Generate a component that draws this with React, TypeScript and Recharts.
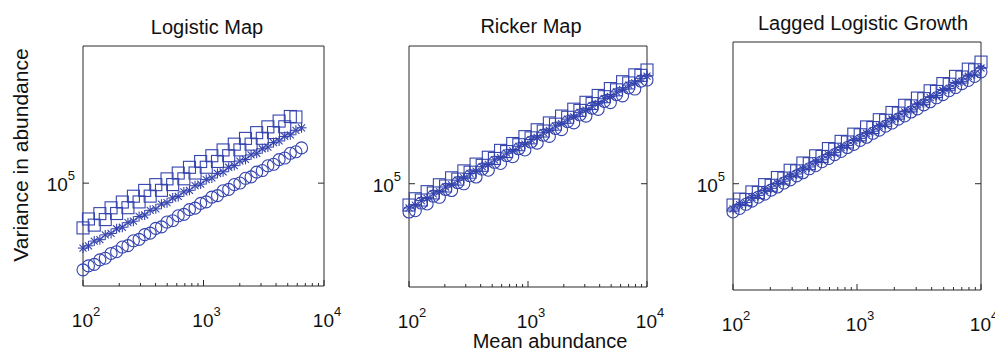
import React from "react";
import { ScatterChart, Scatter, XAxis, YAxis } from "recharts";

// mean abundance (x) per panel
const logisticX = [100, 111, 124, 138, 153, 171, 190, 212, 236, 262, 292, 325, 361, 402, 448, 498, 555, 617, 687, 765, 851, 947, 1054, 1173, 1306, 1454, 1618, 1801, 2004, 2231, 2483, 2763, 3076, 3423, 3811, 4241, 4721, 5254, 5848, 6509];
const rickerX = [100, 113, 127, 142, 160, 180, 203, 228, 257, 289, 326, 366, 412, 464, 522, 588, 661, 744, 837, 942, 1061, 1194, 1343, 1512, 1701, 1914, 2154, 2424, 2728, 3070, 3455, 3888, 4375, 4924, 5541, 6235, 7017, 7896, 8886, 10000];
const laggedX = [100, 113, 127, 142, 160, 180, 203, 228, 257, 289, 326, 366, 412, 464, 522, 588, 661, 744, 837, 942, 1061, 1194, 1343, 1512, 1701, 1914, 2154, 2424, 2728, 3070, 3455, 3888, 4375, 4924, 5541, 6235, 7017, 7896, 8886, 10000];

// variance in abundance (y)
const logisticSquares = [54800, 61800, 56900, 66400, 61300, 71800, 66500, 77600, 71900, 83900, 77700, 90700, 84000, 98000, 90800, 105900, 98100, 114500, 106000, 123700, 114600, 133700, 123800, 144500, 133800, 156200, 144600, 168800, 156300, 182400, 168900, 197100, 182600, 213000, 197300, 230200, 213200, 244800, 243300];
const logisticStars = [41800, 43100, 45900, 46800, 49900, 50900, 54200, 55300, 58800, 60000, 63900, 65200, 69400, 70800, 75400, 76900, 81900, 83600, 88900, 90800, 96600, 98700, 104900, 107200, 114000, 116500, 123800, 126600, 134500, 137500, 146100, 149400, 158700, 162300, 172400, 176300, 187300, 191500, 203400, 210300];
const logisticCircles = [31200, 32900, 33600, 35700, 36500, 38900, 39800, 42400, 43200, 46100, 47000, 50100, 51100, 54500, 55600, 59300, 60400, 64500, 65700, 70100, 71500, 76200, 77800, 82900, 84600, 90200, 92000, 98100, 100100, 106700, 108800, 116000, 118400, 126200, 128800, 137200, 140100, 149300, 152400, 160500];

const rickerSquares = [75200, 81800, 80400, 89900, 88400, 98600, 97000, 108200, 106400, 118700, 116700, 130000, 127900, 142500, 140200, 156200, 153700, 171200, 168500, 187700, 184700, 205800, 202400, 225500, 221800, 247200, 243200, 271000, 266600, 297100, 292200, 325700, 320300, 357000, 351100, 391300, 384900, 429000, 426000, 457700];
const rickerStars = [72300, 75100, 79800, 82200, 87300, 90000, 95700, 98600, 104800, 108000, 114700, 118200, 125600, 129400, 137500, 141700, 150600, 155200, 164900, 169900, 180600, 186100, 197800, 203800, 216600, 223200, 237200, 244400, 259800, 267700, 284500, 293200, 311600, 321100, 341300, 351700, 373800, 385200, 409500, 422200];
const rickerCircles = [68500, 69700, 77200, 76300, 84700, 83400, 92700, 91300, 101500, 99900, 111200, 109400, 121700, 119800, 133200, 131100, 145800, 143500, 159600, 157100, 174700, 172000, 191300, 188300, 209400, 206100, 229200, 225600, 250900, 247000, 274700, 270400, 300700, 296000, 329200, 324000, 360400, 354700, 394500, 400200];

const laggedSquares = [75800, 81900, 81400, 89900, 89200, 98800, 98000, 108400, 107600, 119100, 118200, 130900, 129800, 143700, 142600, 157900, 156600, 173400, 172000, 190500, 188900, 209200, 207500, 229800, 228000, 252400, 250400, 277200, 275000, 304500, 302100, 334500, 331800, 367400, 364500, 403600, 400300, 443400, 439700, 486000];
const laggedStars = [72000, 76300, 78300, 83700, 85900, 91800, 94200, 100700, 103400, 110500, 113400, 121200, 124400, 133000, 136500, 145900, 149800, 160100, 164300, 175600, 180300, 192600, 197800, 211300, 217000, 231900, 238100, 254400, 261200, 279100, 286500, 306200, 314400, 335900, 344900, 368500, 378400, 404300, 415100, 450000];
const laggedCircles = [69300, 72500, 76500, 79700, 83900, 87400, 92000, 95800, 100900, 105100, 110700, 115300, 121400, 126400, 133100, 138700, 146000, 152100, 160100, 166800, 175600, 182900, 192600, 200600, 211200, 220000, 231600, 241300, 254000, 264600, 278600, 290200, 305500, 318200, 335100, 349000, 367500, 382800, 403100, 428000];

const xTicks = [100, 200, 300, 400, 500, 600, 700, 800, 900, 1000, 2000, 3000, 4000, 5000, 6000, 7000, 8000, 9000, 10000];
const yTicks = [100000];
const xDomain = [100, 10000];
const yDomain = [25119, 630957];

const BLUE = "#3443ad";
const AXIS = "#2b2b2b";
const FONT = "'Liberation Sans', Arial, Helvetica, sans-serif";

const toPoints = (xs: number[], ys: number[]) => ys.map((y, i) => ({ x: xs[i], y }));
const exponent = (v: number) => Math.round(Math.log10(v));
const isDecade = (v: number) => Math.abs(Math.log10(v) - exponent(v)) < 1e-9;

const CircleMark = (p: any) => (
  <circle cx={p.cx} cy={p.cy} r={6} fill="none" stroke={BLUE} strokeWidth={1.1} />
);
const SquareMark = (p: any) => (
  <rect x={p.cx - 6} y={p.cy - 6} width={12} height={12} fill="none" stroke={BLUE} strokeWidth={1.1} />
);
const StarMark = (p: any) => {
  const r = 5;
  const d = r * 0.7;
  return (
    <g stroke={BLUE} strokeWidth={1.1}>
      <line x1={p.cx - r} x2={p.cx + r} y1={p.cy} y2={p.cy} />
      <line x1={p.cx} x2={p.cx} y1={p.cy - r} y2={p.cy + r} />
      <line x1={p.cx - d} x2={p.cx + d} y1={p.cy - d} y2={p.cy + d} />
      <line x1={p.cx - d} x2={p.cx + d} y1={p.cy + d} y2={p.cy - d} />
    </g>
  );
};

const Pow = ({ x, y, e, anchor }: { x: number; y: number; e: number; anchor: string }) => (
  <text x={x} y={y} textAnchor={anchor} fontSize={19} fontFamily={FONT} fill="#111">
    10<tspan dy={-11} fontSize={13}>{e}</tspan>
  </text>
);

const BottomTick = (props: any) => {
  const { x, y, payload } = props;
  const major = isDecade(payload.value);
  return (
    <g>
      <line x1={x} x2={x} y1={y} y2={y - (major ? 6 : 3)} stroke={AXIS} />
      {major && <Pow x={x + 3} y={y + 41} e={exponent(payload.value)} anchor="middle" />}
    </g>
  );
};
const TopTick = (props: any) => {
  const { x, y, payload } = props;
  const major = isDecade(payload.value);
  return <line x1={x} x2={x} y1={y} y2={y + (major ? 6 : 3)} stroke={AXIS} />;
};
const LeftTick = (props: any) => {
  const { x, y, payload } = props;
  return (
    <g>
      <line x1={x} x2={x + 6} y1={y} y2={y} stroke={AXIS} />
      <Pow x={x - 8} y={y + 8} e={exponent(payload.value)} anchor="end" />
    </g>
  );
};
const RightTick = (props: any) => {
  const { x, y } = props;
  return <line x1={x} x2={x - 6} y1={y} y2={y} stroke={AXIS} />;
};

type PanelProps = {
  left: number;
  top: number;
  w: number;
  h: number;
  squares: { x: number; y: number }[];
  stars: { x: number; y: number }[];
  circles: { x: number; y: number }[];
};

const Panel = ({ left, top, w, h, squares, stars, circles }: PanelProps) => (
  <div style={{ position: "absolute", left: left - 80, top: top - 50 }}>
    <ScatterChart width={w + 110} height={h + 110} margin={{ top: 0, right: 0, bottom: 0, left: 0 }}>
      <XAxis
        dataKey="x"
        type="number"
        scale="log"
        domain={xDomain}
        ticks={xTicks}
        interval={0}
        height={60}
        tickSize={0}
        tickMargin={0}
        tickLine={false}
        tick={<BottomTick />}
        axisLine={{ stroke: AXIS }}
      />
      <XAxis
        xAxisId="top"
        orientation="top"
        type="number"
        scale="log"
        domain={xDomain}
        allowDataOverflow
        ticks={xTicks}
        interval={0}
        height={50}
        tickSize={0}
        tickMargin={0}
        tickLine={false}
        tick={<TopTick />}
        axisLine={{ stroke: AXIS }}
      />
      <YAxis
        dataKey="y"
        type="number"
        scale="log"
        domain={yDomain}
        ticks={yTicks}
        interval={0}
        width={80}
        tickSize={0}
        tickMargin={0}
        tickLine={false}
        tick={<LeftTick />}
        axisLine={{ stroke: AXIS }}
      />
      <YAxis
        yAxisId="right"
        orientation="right"
        type="number"
        scale="log"
        domain={yDomain}
        allowDataOverflow
        ticks={yTicks}
        interval={0}
        width={30}
        tickSize={0}
        tickMargin={0}
        tickLine={false}
        tick={<RightTick />}
        axisLine={{ stroke: AXIS }}
      />
      <Scatter data={squares} shape={<SquareMark />} isAnimationActive={false} />
      <Scatter data={stars} shape={<StarMark />} isAnimationActive={false} />
      <Scatter data={circles} shape={<CircleMark />} isAnimationActive={false} />
    </ScatterChart>
  </div>
);

export default function App() {
  return (
    <div style={{ position: "absolute", left: 0, top: 0, width: 995, height: 357, background: "#fff", overflow: "hidden", fontFamily: FONT }}>
      <Panel
        left={83}
        top={46}
        w={241}
        h={240}
        squares={toPoints(logisticX, logisticSquares)}
        stars={toPoints(logisticX, logisticStars)}
        circles={toPoints(logisticX, logisticCircles)}
      />
      <Panel
        left={409}
        top={46}
        w={238}
        h={241}
        squares={toPoints(rickerX, rickerSquares)}
        stars={toPoints(rickerX, rickerStars)}
        circles={toPoints(rickerX, rickerCircles)}
      />
      <Panel
        left={733}
        top={42}
        w={248}
        h={248}
        squares={toPoints(laggedX, laggedSquares)}
        stars={toPoints(laggedX, laggedStars)}
        circles={toPoints(laggedX, laggedCircles)}
      />
      <svg width={995} height={357} style={{ position: "absolute", left: 0, top: 0, pointerEvents: "none" }}>
        <g fontFamily={FONT} fill="#111" fontSize={20}>
          <text x={207} y={34} textAnchor="middle">Logistic Map</text>
          <text x={531} y={33} textAnchor="middle">Ricker Map</text>
          <text x={863} y={30} textAnchor="middle">Lagged Logistic Growth</text>
          <text x={550} y={348} textAnchor="middle">Mean abundance</text>
          <text transform="translate(28,155) rotate(-90)" textAnchor="middle" fontSize={21}>
            Variance in abundance
          </text>
        </g>
      </svg>
    </div>
  );
}
